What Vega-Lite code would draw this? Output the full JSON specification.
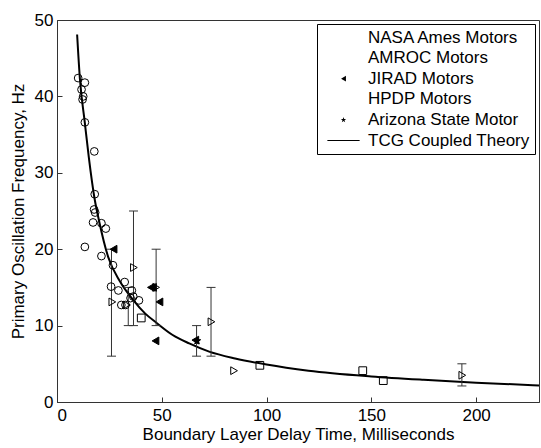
{
  "$schema": "https://vega.github.io/schema/vega-lite/v6.json",
  "width": 482,
  "height": 382,
  "autosize": {"type": "none"},
  "padding": {"left": 57, "top": 20, "right": 2, "bottom": 46},
  "background": "white",
  "config": {
    "view": {"stroke": "#333333", "strokeWidth": 1},
    "font": "Liberation Sans",
    "axis": {
      "grid": false,
      "domainColor": "#333333",
      "tickColor": "#333333",
      "tickSize": -5,
      "labelOverlap": false,
      "labelFont": "Liberation Sans",
      "labelFontSize": 17,
      "labelColor": "black",
      "titleFont": "Liberation Sans",
      "titleFontSize": 17,
      "titleFontWeight": "normal",
      "titleColor": "black"
    },
    "legend": {
      "orient": "top-right",
      "offset": 4,
      "padding": 5,
      "fillColor": "white",
      "strokeColor": "black",
      "labelFont": "Liberation Sans",
      "labelFontSize": 17,
      "labelColor": "black",
      "labelLimit": 400,
      "symbolSize": 32,
      "symbolStrokeWidth": 1,
      "symbolStrokeColor": "black",
      "symbolOffset": 13,
      "labelOffset": 16,
      "rowPadding": 2.6
    }
  },
  "datasets": {
    "curve": [
      {"t": 9.6, "f": 48.1}, {"t": 10.9, "f": 42.4}, {"t": 13.3, "f": 36.5}, {"t": 15.2, "f": 32.0},
      {"t": 18.0, "f": 26.5}, {"t": 20.0, "f": 23.8}, {"t": 24.4, "f": 19.0}, {"t": 30.0, "f": 15.8},
      {"t": 36.2, "f": 13.4}, {"t": 42.0, "f": 11.6}, {"t": 47.3, "f": 10.4}, {"t": 55.0, "f": 8.8},
      {"t": 63.1, "f": 7.67}, {"t": 72.6, "f": 6.6}, {"t": 85.0, "f": 5.7}, {"t": 100.0, "f": 4.9},
      {"t": 120.0, "f": 4.1}, {"t": 150.0, "f": 3.35}, {"t": 175.0, "f": 2.9}, {"t": 200.0, "f": 2.52},
      {"t": 230.0, "f": 2.17}
    ],
    "bars": [
      {"t": 26.0, "lo": 6, "hi": 20},
      {"t": 34.0, "lo": 10, "hi": 15},
      {"t": 36.5, "lo": 10, "hi": 25},
      {"t": 47.3, "lo": 10, "hi": 20},
      {"t": 66.6, "lo": 6, "hi": 10},
      {"t": 73.5, "lo": 6, "hi": 15},
      {"t": 193.2, "lo": 2.1, "hi": 5.0}
    ],
    "pts": [
      {"motor": "NASA Ames Motors", "t": 10.1, "f": 42.4},
      {"motor": "NASA Ames Motors", "t": 13.3, "f": 41.8},
      {"motor": "NASA Ames Motors", "t": 11.7, "f": 40.9},
      {"motor": "NASA Ames Motors", "t": 12.5, "f": 40.0},
      {"motor": "NASA Ames Motors", "t": 12.2, "f": 39.6},
      {"motor": "NASA Ames Motors", "t": 13.3, "f": 36.6},
      {"motor": "NASA Ames Motors", "t": 17.8, "f": 32.8},
      {"motor": "NASA Ames Motors", "t": 18.0, "f": 27.2},
      {"motor": "NASA Ames Motors", "t": 17.7, "f": 25.2},
      {"motor": "NASA Ames Motors", "t": 18.2, "f": 24.8},
      {"motor": "NASA Ames Motors", "t": 17.2, "f": 23.5},
      {"motor": "NASA Ames Motors", "t": 21.2, "f": 23.4},
      {"motor": "NASA Ames Motors", "t": 23.3, "f": 22.7},
      {"motor": "NASA Ames Motors", "t": 13.3, "f": 20.3},
      {"motor": "NASA Ames Motors", "t": 21.2, "f": 19.1},
      {"motor": "NASA Ames Motors", "t": 26.7, "f": 17.9},
      {"motor": "NASA Ames Motors", "t": 25.8, "f": 15.1},
      {"motor": "NASA Ames Motors", "t": 29.3, "f": 14.6},
      {"motor": "NASA Ames Motors", "t": 32.3, "f": 15.7},
      {"motor": "NASA Ames Motors", "t": 35.7, "f": 14.6},
      {"motor": "NASA Ames Motors", "t": 36.4, "f": 13.8},
      {"motor": "NASA Ames Motors", "t": 39.1, "f": 13.3},
      {"motor": "NASA Ames Motors", "t": 30.7, "f": 12.7},
      {"motor": "NASA Ames Motors", "t": 32.7, "f": 12.7},
      {"motor": "NASA Ames Motors", "t": 35.1, "f": 13.6},
      {"motor": "AMROC Motors", "t": 40.2, "f": 11.0},
      {"motor": "AMROC Motors", "t": 96.8, "f": 4.8},
      {"motor": "AMROC Motors", "t": 145.9, "f": 4.1},
      {"motor": "AMROC Motors", "t": 155.7, "f": 2.8},
      {"motor": "JIRAD Motors", "t": 27.0, "f": 20.0},
      {"motor": "JIRAD Motors", "t": 44.8, "f": 15.0},
      {"motor": "JIRAD Motors", "t": 45.8, "f": 15.0},
      {"motor": "JIRAD Motors", "t": 48.9, "f": 13.1},
      {"motor": "JIRAD Motors", "t": 47.0, "f": 8.0},
      {"motor": "JIRAD Motors", "t": 66.0, "f": 8.1},
      {"motor": "HPDP Motors", "t": 26.4, "f": 13.1},
      {"motor": "HPDP Motors", "t": 33.4, "f": 12.7},
      {"motor": "HPDP Motors", "t": 36.7, "f": 17.6},
      {"motor": "HPDP Motors", "t": 47.3, "f": 15.0},
      {"motor": "HPDP Motors", "t": 73.7, "f": 10.5},
      {"motor": "HPDP Motors", "t": 84.5, "f": 4.1},
      {"motor": "HPDP Motors", "t": 193.4, "f": 3.5},
      {"motor": "Arizona State Motor", "t": 66.8, "f": 8.0}
    ]
  },
  "layer": [
    {
      "data": {"name": "curve"},
      "mark": {"type": "line", "color": "black", "strokeWidth": 2, "interpolate": "monotone"},
      "encoding": {
        "x": {"field": "t", "type": "quantitative", "scale": {"domain": [0, 230], "nice": false},
          "axis": {"title": "Boundary Layer Delay Time, Milliseconds", "values": [0, 50, 100, 150, 200], "labelPadding": 10, "titlePadding": 3, "labelOverlap": false}},
        "y": {"field": "f", "type": "quantitative", "scale": {"domain": [0, 50], "nice": false},
          "axis": {"title": "Primary Oscillation Frequency, Hz", "values": [0, 5, 10, 15, 20, 25, 30, 35, 40, 45, 50], "labelPadding": 9, "titlePadding": 7, "labelOverlap": false}}
      }
    },
    {
      "data": {"name": "bars"},
      "mark": {"type": "rule", "color": "#333333", "strokeWidth": 1},
      "encoding": {
        "x": {"field": "t", "type": "quantitative"},
        "y": {"field": "lo", "type": "quantitative"},
        "y2": {"field": "hi"}
      }
    },
    {
      "data": {"name": "bars"},
      "mark": {"type": "tick", "orient": "horizontal", "size": 9, "thickness": 1, "color": "#333333", "opacity": 1},
      "encoding": {
        "x": {"field": "t", "type": "quantitative"},
        "y": {"field": "lo", "type": "quantitative"}
      }
    },
    {
      "data": {"name": "bars"},
      "mark": {"type": "tick", "orient": "horizontal", "size": 9, "thickness": 1, "color": "#333333", "opacity": 1},
      "encoding": {
        "x": {"field": "t", "type": "quantitative"},
        "y": {"field": "hi", "type": "quantitative"}
      }
    },
    {
      "data": {"name": "pts"},
      "mark": {"type": "point", "stroke": "black", "strokeWidth": 1, "size": 60, "opacity": 1},
      "encoding": {
        "x": {"field": "t", "type": "quantitative"},
        "y": {"field": "f", "type": "quantitative"},
        "shape": {"field": "motor", "type": "nominal",
          "scale": {"domain": ["NASA Ames Motors", "AMROC Motors", "JIRAD Motors", "HPDP Motors", "Arizona State Motor", "TCG Coupled Theory"],
            "range": ["circle", "square", "triangle-left", "triangle-right", "M0,-1L0.2245,-0.309L0.9511,-0.309L0.3633,0.118L0.5878,0.809L0,0.382L-0.5878,0.809L-0.3633,0.118L-0.9511,-0.309L-0.2245,-0.309Z", "M-5.7,-0.2H5.7V0.2H-5.7Z"]},
          "legend": {"title": null, "labelExpr": "datum.label + '\u00a0\u00a0'",
            "encode": {"symbols": {"update": {"stroke": {"value": "black"}, "strokeWidth": {"value": 1}}}}}},
        "fill": {"field": "motor", "type": "nominal",
          "scale": {"domain": ["NASA Ames Motors", "AMROC Motors", "JIRAD Motors", "HPDP Motors", "Arizona State Motor", "TCG Coupled Theory"],
            "range": ["transparent", "transparent", "black", "transparent", "black", "black"]},
          "legend": {"title": null, "labelExpr": "datum.label + '\u00a0\u00a0'",
            "encode": {"symbols": {"update": {"stroke": {"value": "black"}, "strokeWidth": {"value": 1}}}}}}
      }
    }
  ]
}
